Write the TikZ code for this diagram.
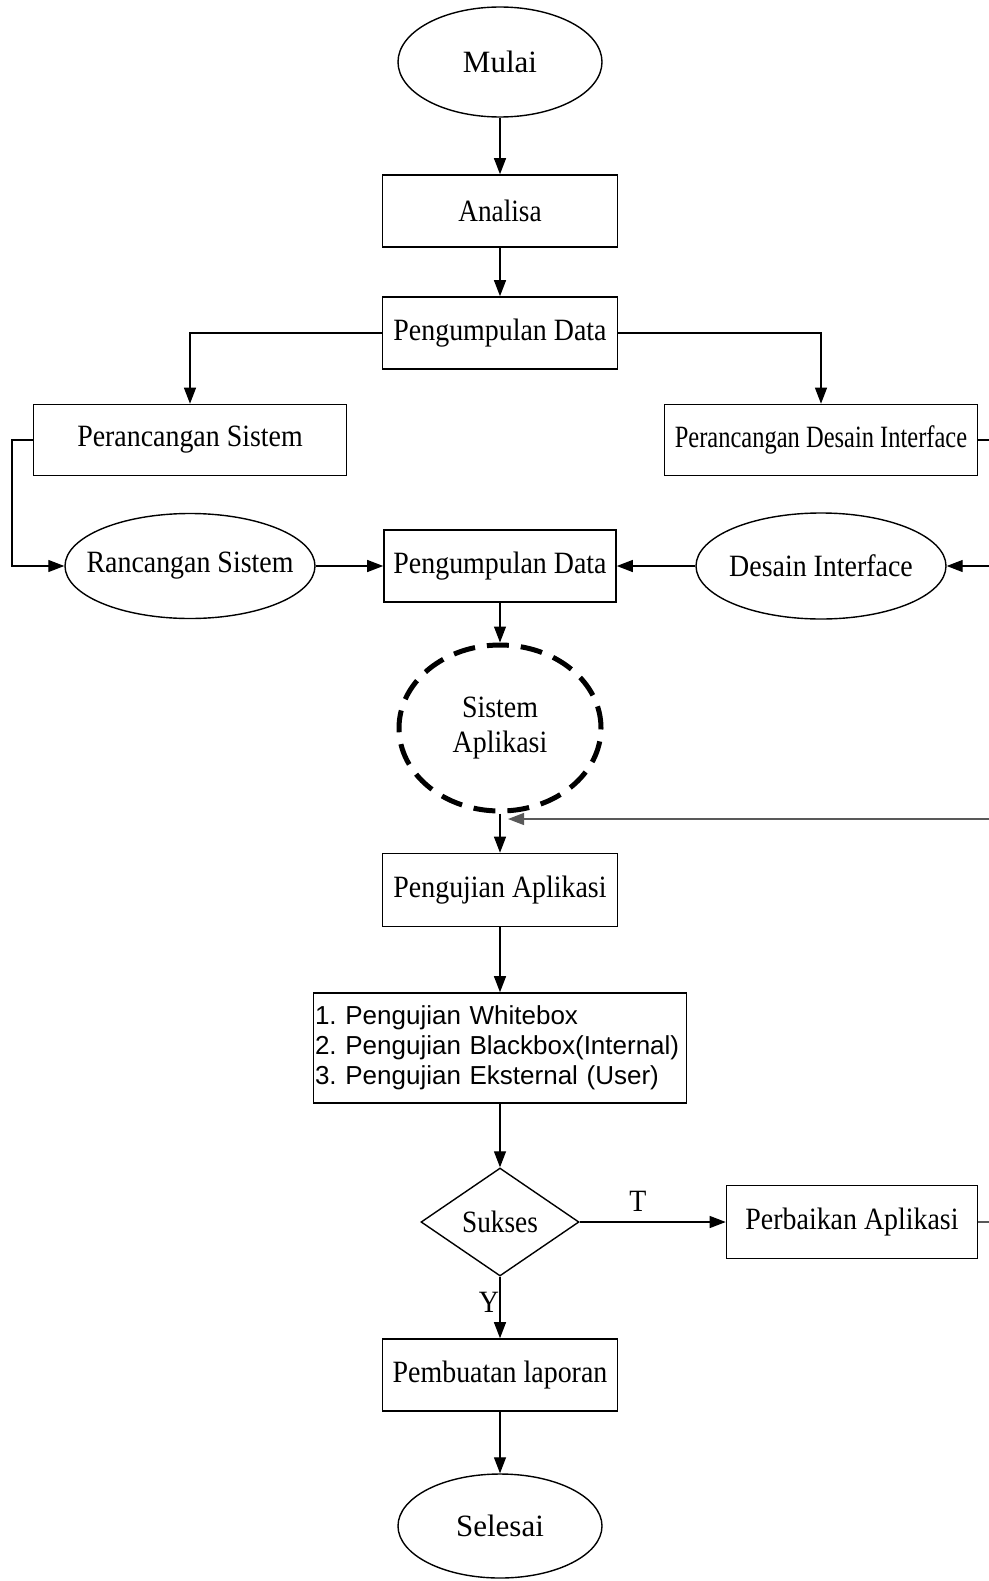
\documentclass[tikz,border=0pt]{standalone}
\usepackage{fontspec}
\usepackage{graphicx}
\setmainfont{Liberation Serif}
\newfontfamily\listfont{Liberation Sans}
\usetikzlibrary{arrows.meta,shapes.geometric}
\newcommand\sqz[2]{\scalebox{#1}[1]{#2}}
\newcommand\zw[1]{\makebox[0pt][c]{#1}}
\begin{document}
\begin{tikzpicture}[x=1pt,y=-1pt,
  txt/.style={font=\fontsize{31}{35}\selectfont},
  boxnode/.style={txt, draw, line width=1.6pt, rectangle, inner sep=0pt, minimum width=235pt, minimum height=72pt},
  ovalnode/.style={txt, draw, line width=1.4pt, ellipse, inner sep=0pt},
  dashoval/.style={txt, draw, ellipse, line width=5pt, dash pattern=on 22pt off 12pt, inner sep=0pt},
  decision/.style={txt, diamond, draw, line width=1.4pt, inner sep=0pt, minimum width=158pt, minimum height=108pt},
  listbox/.style={draw, line width=1.6pt, rectangle, inner sep=1pt, minimum width=373pt, minimum height=110pt, text width=370pt, align=left, font=\listfont\fontsize{26}{30}\selectfont\frenchspacing},
  flow/.style={line width=1.2pt, -{Triangle[length=16pt,width=12pt]}},
  lbl/.style={txt, inner sep=0pt}
]
\useasboundingbox (0,0) rectangle (988,1581);

% nodes
\node[ovalnode, minimum width=204pt, minimum height=110pt] (mulai) at (500,62) {\zw{Mulai}};
\node[boxnode] (analisa) at (500,211) {\sqz{0.88}{Analisa}};
\node[boxnode] (pd1) at (500,333) {\sqz{0.9}{Pengumpulan Data}};
\node[boxnode, minimum width=313pt, minimum height=71pt] (ps) at (190,440) {\sqz{0.9}{Perancangan Sistem}};
\node[boxnode, minimum width=313pt, minimum height=71pt] (pdi) at (821,440) {\sqz{0.79}{Perancangan Desain Interface}};
\node[ovalnode, minimum width=250pt, minimum height=105pt] (rs) at (190,566) {\zw{\sqz{0.9}{Rancangan Sistem}}};
\node[boxnode, minimum width=232pt] (pd2) at (500,566) {\sqz{0.9}{Pengumpulan Data}};
\node[ovalnode, minimum width=250pt, minimum height=106pt] (di) at (821,566) {\zw{\sqz{0.9}{Desain Interface}}};
\node[dashoval, minimum width=202pt, minimum height=166pt] (sa) at (500,728) {\zw{\sqz{0.9}{\begin{tabular}{@{}c@{}}Sistem\\Aplikasi\end{tabular}}}};
\node[boxnode, minimum height=73pt] (pa) at (500,890) {\sqz{0.9}{Pengujian Aplikasi}};
\node[listbox] (uji) at (500,1048) {\mbox{1. Pengujian Whitebox}\\\mbox{2. Pengujian Blackbox(Internal)}\\\mbox{3. Pengujian Eksternal (User)}};
\node[decision] (sukses) at (500,1222) {\zw{\sqz{0.88}{Sukses}}};
\node[boxnode, minimum width=251pt, minimum height=73pt] (perb) at (852,1222) {\sqz{0.9}{Perbaikan Aplikasi}};
\node[boxnode] (pl) at (500,1375) {\sqz{0.9}{Pembuatan laporan}};
\node[ovalnode, minimum width=204pt, minimum height=104pt] (selesai) at (500,1526) {\zw{Selesai}};

\node[lbl] (tlab) at (638,1201) {\sqz{0.9}{T}};
\node[lbl] (ylab) at (489,1302) {\sqz{0.9}{Y}};

% helper coordinates
\coordinate (lft) at (12,440);
\coordinate (lfb) at (12,566);
\coordinate (rt1) at (996,440);
\coordinate (rt2) at (996,566);
\coordinate (rb1) at (996,1222);
\coordinate (rb2) at (996,819);
\coordinate (sain) at (508,819);

% connectors
\draw[flow] (mulai.south) -- (analisa.north);
\draw[flow] (analisa.south) -- (pd1.north);
\draw[flow] (pd1.west) -| (ps.north);
\draw[flow] (pd1.east) -| (pdi.north);
\draw[flow] (ps.west) -- (lft) -- (lfb) -- (rs.west);
\draw[flow] (rs.east) -- (pd2.west);
\draw[flow] (di.west) -- (pd2.east);
\draw[flow] (pdi.east) -- (rt1) -- (rt2) -- (di.east);
\draw[flow] (pd2.south) -- (sa.north);
\draw[flow] (sa.south) -- (pa.north);
\draw[flow, draw=black!65] (perb.east) -- (rb1) -- (rb2) -- (sain);
\draw[flow] (pa.south) -- (uji.north);
\draw[flow] (uji.south) -- (sukses.north);
\draw[flow] (sukses.east) -- (perb.west);
\draw[flow] (sukses.south) -- (pl.north);
\draw[flow] (pl.south) -- (selesai.north);
\end{tikzpicture}
\end{document}
